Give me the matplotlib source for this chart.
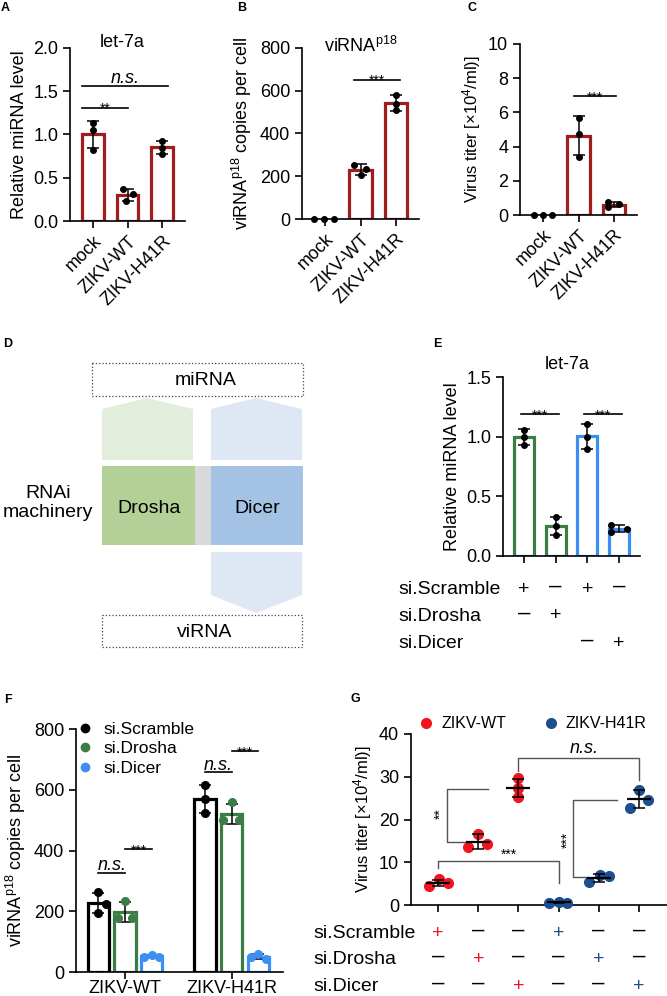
import numpy as np
import matplotlib
matplotlib.use('Agg')
import matplotlib.pyplot as plt
from matplotlib.patches import Rectangle, Polygon
from matplotlib.lines import Line2D

plt.rcParams['font.family'] = ['Liberation Sans', 'DejaVu Sans']
plt.rcParams['font.size'] = 13
plt.rcParams['mathtext.default'] = 'regular'
plt.rcParams['axes.linewidth'] = 1.2
plt.rcParams['xtick.major.width'] = 1.2
plt.rcParams['ytick.major.width'] = 1.2
plt.rcParams['xtick.major.size'] = 5
plt.rcParams['ytick.major.size'] = 5

# ---- data ----
abc_groups = ['mock', 'ZIKV-WT', 'ZIKV-H41R']
a_let7a = [[1.13, 1.05, 0.82], [0.37, 0.31, 0.23], [0.93, 0.84, 0.78]]
b_virna = [[0, 0, 0], [254, 234, 204], [579, 540, 508]]
c_titer = [[0, 0, 0], [5.7, 4.76, 3.42], [0.74, 0.45, 0.64]]

e_let7a = [[1.06, 1.0, 0.93], [0.33, 0.25, 0.18], [1.11, 1.0, 0.9], [0.26, 0.23, 0.2]]
e_scramble = ['+', '–', '+', '–']
e_drosha = ['–', '+', '', '']
e_dicer = ['', '', '–', '+']

f_virus = ['ZIKV-WT', 'ZIKV-H41R']
f_conditions = ['si.Scramble', 'si.Drosha', 'si.Dicer']
f_scramble = [[262, 225, 195], [616, 569, 525]]
f_drosha = [[234, 179, 179], [559, 500, 500]]
f_dicer = [[50, 55, 50], [50, 58, 44]]

g_virus = ['ZIKV-WT', 'ZIKV-WT', 'ZIKV-WT', 'ZIKV-H41R', 'ZIKV-H41R', 'ZIKV-H41R']
g_titer = [[4.5, 6.0, 5.1], [13.5, 16.7, 14.3], [29.6, 27.3, 25.2],
           [0.5, 0.8, 0.5], [5.3, 7.0, 6.8], [22.7, 26.9, 24.6]]
g_scramble = ['+', '–', '–', '+', '–', '–']
g_drosha = ['–', '+', '–', '–', '+', '–']
g_dicer = ['–', '–', '+', '–', '–', '+']

# colours
dred = '#a01c1f'
green = '#3b7d45'
lblue = '#3d8ef2'
red = '#f0141e'
navy = '#1c4f8f'

W, H = 667, 996
fig = plt.figure(figsize=(W / 100, H / 100), dpi=100)

ov = fig.add_axes([0, 0, 1, 1])
ov.set_xlim(0, W)
ov.set_ylim(H, 0)
ov.axis('off')


def px_axes(l, t, r, b):
    ax = fig.add_axes([l / W, 1 - b / H, (r - l) / W, (b - t) / H])
    ax.spines['top'].set_visible(False)
    ax.spines['right'].set_visible(False)
    return ax


def bars(ax, xs, groups, offs, color, width):
    for x, pts, off in zip(xs, groups, offs):
        m = np.mean(pts)
        sd = np.std(pts, ddof=1)
        if m > 0:
            ax.bar(x, m, width, facecolor='white', edgecolor=color, lw=2.3, zorder=2)
        if sd > 0:
            ax.errorbar(x, m, yerr=sd, color='black', lw=1.1, capsize=4, capthick=1.1, zorder=3)
        ax.plot(x + np.array(off), pts, 'o', color='black', ms=4, zorder=4, clip_on=False)


def sig(ax, x1, x2, y, txt, italic=False):
    ax.plot([x1, x2], [y, y], color='black', lw=1.2)
    if italic:
        ax.annotate(txt, ((x1 + x2) / 2, y), xytext=(0, 2), textcoords='offset points',
                    ha='center', va='baseline', fontsize=13, style='italic')
    else:
        ax.annotate(txt, ((x1 + x2) / 2, y), xytext=(0, -4), textcoords='offset points',
                    ha='center', va='baseline', fontsize=10)


def abc_xticks(ax):
    ax.set_xlim(-0.65, 2.65)
    ax.set_xticks(range(3))
    ax.set_xticklabels(abc_groups, rotation=45, ha='right', rotation_mode='anchor')


def sign_text(ax, x, yfrac, s, color='black'):
    # dashes sit a little higher than the plus signs in the original
    if s == '+':
        ax.text(x, yfrac, s, transform=ax.get_xaxis_transform(), ha='center', va='center',
                fontsize=14, color=color, clip_on=False)
    elif s:
        ax.annotate(s, (x, yfrac), xycoords=ax.get_xaxis_transform(), xytext=(0, 2),
                    textcoords='offset points', ha='center', va='center',
                    fontsize=16, color=color, annotation_clip=False)


# ---- A ----
axA = px_axes(70, 48, 185, 221)
bars(axA, range(3), a_let7a, [[0, 0, 0], [-0.14, 0.16, -0.03], [0, 0, 0]], dred, 0.63)
axA.set_ylim(0, 2.0)
axA.set_yticks([0, 0.5, 1.0, 1.5, 2.0])
axA.set_yticklabels(['0.0', '0.5', '1.0', '1.5', '2.0'])
abc_xticks(axA)
axA.set_ylabel('Relative miRNA level')
axA.text(0.45, 1.03, 'let-7a', transform=axA.transAxes, ha='center', va='center')
sig(axA, -0.3, 1.0, 1.31, '**')
sig(axA, -0.3, 2.15, 1.56, 'n.s.', italic=True)

# ---- B ----
axB = px_axes(302, 48, 419, 219)
bars(axB, range(3), b_virna, [[-0.31, -0.02, 0.24], [-0.17, 0.15, 0], [0, 0, 0]], dred, 0.63)
axB.set_ylim(0, 800)
axB.set_yticks([0, 200, 400, 600, 800])
abc_xticks(axB)
axB.set_ylabel('viRNA$^{p18}$ copies per cell')
axB.text(0.5, 1.01, 'viRNA$^{p18}$', transform=axB.transAxes, ha='center', va='center')
sig(axB, 0.82, 2.1, 652, '***')

# ---- C ----
axC = px_axes(520, 44, 637, 215)
bars(axC, range(3), c_titer, [[-0.25, 0, 0.25], [0, 0, 0], [-0.16, -0.16, 0.14]], dred, 0.63)
axC.set_ylim(0, 10)
axC.set_yticks([0, 2, 4, 6, 8, 10])
abc_xticks(axC)
axC.set_ylabel('Virus titer [×10$^4$/ml)]', fontsize=12)
sig(axC, 0.86, 2.05, 6.97, '***')

# ---- D diagram ----
ov.add_patch(Rectangle((92, 363), 211, 33, fill=False, ec='#444444', lw=0.9, ls=':'))
ov.text(206, 380, 'miRNA', ha='center', va='center', fontsize=14)
ov.add_patch(Polygon([(102, 460), (102, 409), (147, 398), (193, 409), (193, 460)],
                     closed=True, fc='#e2eedb', ec='none'))
ov.add_patch(Polygon([(211, 460), (211, 409), (256, 398), (302, 409), (302, 460)],
                     closed=True, fc='#dde8f4', ec='none'))
ov.add_patch(Rectangle((102, 466), 93, 79, fc='#b3d196', ec='none'))
ov.add_patch(Rectangle((195, 466), 16, 79, fc='#d9d9d9', ec='none'))
ov.add_patch(Rectangle((211, 466), 92, 79, fc='#a4c2e3', ec='none'))
ov.text(149, 508, 'Drosha', ha='center', va='center', fontsize=14)
ov.text(257, 508, 'Dicer', ha='center', va='center', fontsize=14)
ov.add_patch(Polygon([(211, 552), (302, 552), (302, 595), (256, 613), (211, 595)],
                     closed=True, fc='#dde8f4', ec='none'))
ov.add_patch(Rectangle((102, 615), 200, 32, fill=False, ec='#444444', lw=0.9, ls=':'))
ov.text(205, 632, 'viRNA', ha='center', va='center', fontsize=14)
ov.text(48, 503, 'RNAi\nmachinery', ha='center', va='center', fontsize=14, linespacing=1.1)

# ---- E ----
axE = px_axes(503, 377, 640, 556)
bars(axE, range(4), e_let7a, [[0, 0, 0], [0, 0, 0], [0, 0, 0], [-0.24, 0.25, -0.24]],
     green, 0.63)
for p in axE.patches[2:]:
    p.set_edgecolor(lblue)
axE.set_ylim(0, 1.5)
axE.set_yticks([0, 0.5, 1.0, 1.5])
axE.set_yticklabels(['0.0', '0.5', '1.0', '1.5'])
axE.set_xlim(-0.66, 3.66)
axE.set_xticks(range(4))
axE.set_xticklabels([])
axE.set_ylabel('Relative miRNA level')
axE.text(0.47, 1.07, 'let-7a', transform=axE.transAxes, ha='center', va='center')
sig(axE, -0.1, 1.1, 1.19, '***')
sig(axE, 1.9, 3.1, 1.19, '***')

e_rows = [('si.Scramble', e_scramble, 589), ('si.Drosha', e_drosha, 616), ('si.Dicer', e_dicer, 643)]
for name, signs, ypix in e_rows:
    ov.text(398, ypix, name, ha='left', va='center', fontsize=14)
    for i, s in enumerate(signs):
        sign_text(axE, i, (556 - ypix) / 179, s)

# ---- F ----
axF = px_axes(76, 729, 283, 972)
f_cols = [('black', f_scramble, -0.25, [[0, 0.07, 0], [0, 0, 0]]),
          (green, f_drosha, 0.0, [[0, -0.07, 0.065], [0, -0.08, 0.065]]),
          (lblue, f_dicer, 0.25, [[-0.07, 0, 0.07], [-0.07, 0, 0.07]])]
for col, vals, dx, offs in f_cols:
    xs = np.arange(len(f_virus)) + dx
    for x, pts, off in zip(xs, vals, offs):
        m = np.mean(pts)
        sd = np.std(pts, ddof=1)
        axF.bar(x, m, 0.2, facecolor='white', edgecolor=col, lw=2.3, zorder=2)
        axF.errorbar(x, m, yerr=sd, color='black', lw=1.1, capsize=4, capthick=1.1, zorder=3)
        axF.plot(x + np.array(off), pts, 'o', color=col, ms=5.5, zorder=4)
axF.set_ylim(0, 800)
axF.set_yticks([0, 200, 400, 600, 800])
axF.set_xlim(-0.46, 1.48)
axF.set_xticks(range(2))
axF.set_xticklabels(f_virus)
axF.tick_params(axis='x', pad=1)
axF.set_ylabel('viRNA$^{p18}$ copies per cell')
sig(axF, -0.25, 0.0, 327, 'n.s.', italic=True)
sig(axF, 0.0, 0.25, 404, '***')
sig(axF, 0.75, 1.0, 657, 'n.s.', italic=True)
sig(axF, 1.0, 1.25, 728, '***')
f_handles = [Line2D([], [], ls='none', marker='o', ms=6, color=c) for c in ['black', green, lblue]]
axF.legend(f_handles, f_conditions, loc='upper left', bbox_to_anchor=(0.0, 1.03), frameon=False,
           borderaxespad=0, borderpad=0, handlelength=1, handletextpad=0.6, labelspacing=0.25,
           fontsize=12.5)

# ---- G ----
axG = px_axes(411, 734, 667, 905)
g_offs = [[-0.23, 0.02, 0.24], [-0.25, 0, 0.23], [0, 0, 0], [-0.23, 0, 0.22],
          [-0.23, 0.02, 0.25], [-0.22, 0, 0.23]]
for i, pts in enumerate(g_titer):
    c = red if g_virus[i] == 'ZIKV-WT' else navy
    m = np.mean(pts)
    sd = np.std(pts, ddof=1)
    axG.plot(i + np.array(g_offs[i]), pts, 'o', color=c, ms=7, zorder=3, clip_on=False)
    axG.hlines(m, i - 0.3, i + 0.3, color='black', lw=1.6, zorder=4)
    axG.errorbar(i, m, yerr=sd, color='black', lw=1.1, capsize=4, capthick=1.1, zorder=4)
axG.set_ylim(0, 40)
axG.set_yticks([0, 10, 20, 30, 40])
axG.set_xlim(-0.675, 5.7)
axG.set_xticks(range(6))
axG.set_xticklabels([])
axG.set_ylabel('Virus titer [×10$^4$/ml)]', fontsize=12)

bc = '#555555'
axG.plot([1.25, 0.22, 0.22, 0.7], [27.2, 27.2, 14.8, 14.8], color=bc, lw=1)
axG.text(0.06, 21.3, '**', rotation=90, ha='center', va='center', fontsize=10)
axG.plot([0, 0, 3, 3], [8.6, 10.2, 10.2, 5.1], color=bc, lw=1)
axG.text(1.77, 10.2, '***', ha='center', va='bottom', fontsize=10)
axG.plot([4.46, 3.37, 3.37, 3.72], [24.5, 24.5, 6.6, 6.6], color=bc, lw=1)
axG.text(3.22, 15.2, '***', rotation=90, ha='center', va='center', fontsize=10)
axG.plot([2, 2, 5, 5], [31.25, 34.4, 34.4, 29.3], color=bc, lw=1)
axG.text(3.64, 34.6, 'n.s.', ha='center', va='bottom', fontsize=13, style='italic')

g_handles = [Line2D([], [], ls='none', marker='o', ms=7, color=c) for c in [red, navy]]
axG.legend(g_handles, ['ZIKV-WT', 'ZIKV-H41R'], loc='center left', bbox_to_anchor=(0.027, 1.06),
           ncol=2, frameon=False, borderaxespad=0, borderpad=0, handlelength=1,
           handletextpad=0.45, columnspacing=2.3, fontsize=11.5)

g_rows = [('si.Scramble', g_scramble, 933), ('si.Drosha', g_drosha, 959), ('si.Dicer', g_dicer, 986)]
for name, signs, ypix in g_rows:
    ov.text(313, ypix, name, ha='left', va='center', fontsize=14)
    for i, s in enumerate(signs):
        c = 'black' if s != '+' else (red if g_virus[i] == 'ZIKV-WT' else navy)
        sign_text(axG, i, (905 - ypix) / 171, s, c)

# panel letters
for lab, x, y in [('A', 5, 8), ('B', 242, 8), ('C', 472, 8), ('D', 8, 344),
                  ('E', 437, 344), ('F', 8, 700), ('G', 355, 699)]:
    ov.text(x, y, lab, ha='center', va='center', fontsize=9, fontweight='bold')

fig.savefig('out.png', dpi=100)
